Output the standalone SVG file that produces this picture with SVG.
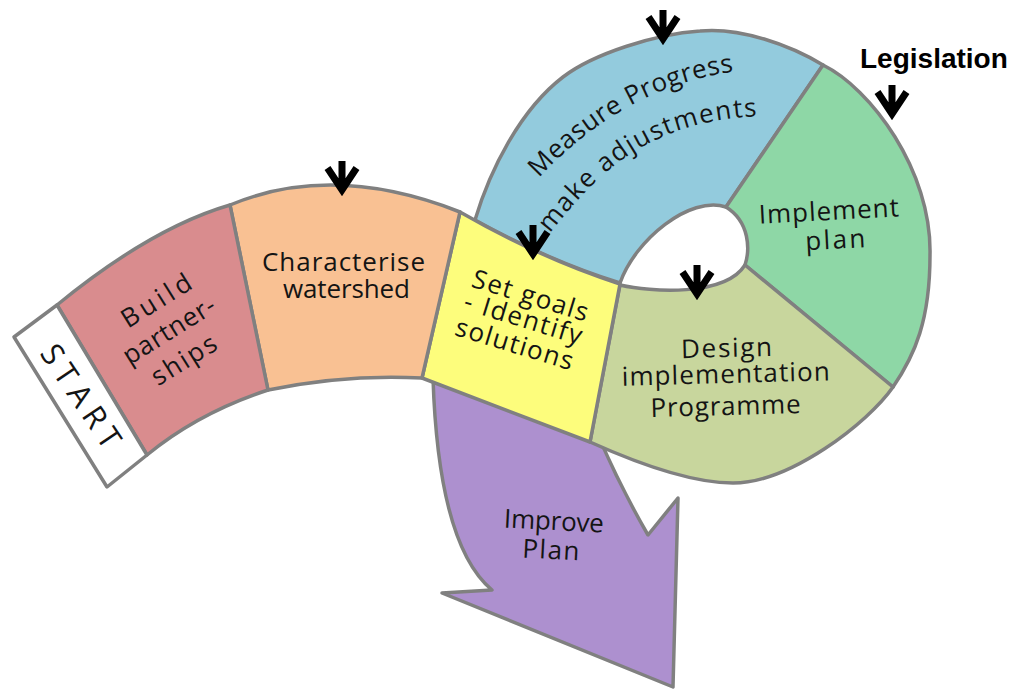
<svg xmlns="http://www.w3.org/2000/svg" width="1013" height="692" viewBox="0 0 1013 692">
<style>
.seg{stroke:#808080;stroke-width:3.5;stroke-linejoin:round}
.hand{font-family:"Open Sans","DejaVu Sans",sans-serif;font-size:26px;fill:#141414}
.arr{fill:none;stroke:#000;stroke-width:7;stroke-linejoin:miter;stroke-miterlimit:6}
.leg{font-family:"Liberation Sans",Arial,sans-serif;font-weight:bold;font-size:28px;fill:#000}
</style>
<defs>
<g id="arrow"><path class="arr" d="M-14.5,-30 L0,-8 L14.5,-30 M0,-37 L0,-10"/></g>
<path id="mp1" d="M539,178 C572,142 640,82 740,71"/>
<path id="mp2" d="M550,233 C585,191 635,120 762,116"/>
</defs>
<rect width="1013" height="692" fill="#fff"/>

<g id="improve-plan">
<path class="seg" fill="#ad90cf" d="M433,378 C436,470 450,555 492,590 L442,593 L673,687 L678,498 L648,535 Q622,490 600,440 Z"/>
<g transform="rotate(3 553 540)">
<text class="hand" x="503" y="530" textLength="100">Improve</text>
<text class="hand" x="523" y="559" textLength="57">Plan</text>
</g>
</g>

<g id="measure-progress">
<path class="seg" fill="#93cbdd" d="M475,220 C490,170 520,110 563,77 C593,54 655,34 700,31 C740,27 790,45 823,65 L726,207 C690,195 635,240 620,283 Q547.5,260.3 475,220 Z"/>
<text class="hand" letter-spacing="0.5"><textPath href="#mp1">Measure Progress</textPath></text>
<text class="hand" letter-spacing="1.5"><textPath href="#mp2">make adjustments</textPath></text>
</g>

<g id="implement-plan">
<path class="seg" fill="#8ed7a6" d="M823,65 C870,88 932,170 930,255 C930,320 915,355 893,387 L745,265 C750,250 750,222 726,207 Z"/>
<g transform="rotate(-3 830 234)">
<text class="hand" x="760" y="220" textLength="140">Implement</text>
<text class="hand" x="805" y="249" textLength="60">plan</text>
</g>
</g>

<g id="design-programme">
<path class="seg" fill="#c8d69d" d="M620,285 C650,292 725,297 745,265 L893,387 C868,423 790,483 733,483 C690,483 630,460 590,442 Z"/>
<g transform="rotate(-1.5 726 385)">
<text class="hand" x="682" y="357" textLength="91">Design</text>
<text class="hand" x="622" y="383" textLength="208">implementation</text>
<text class="hand" x="650" y="415" textLength="150">Programme</text>
</g>
</g>

<g id="set-goals">
<path class="seg" fill="#fdfd7c" d="M460,212 Q540,258 620,284 L590,442 L422,378 Z"/>
<g transform="translate(521,326) rotate(17)">
<text class="hand" x="-60" y="-23" textLength="120">Set goals</text>
<text class="hand" x="-61" y="1" textLength="122">- Identify</text>
<text class="hand" x="-62" y="28" textLength="122">solutions</text>
</g>
</g>

<g id="characterise-watershed">
<path class="seg" fill="#f9c193" d="M230,205 Q333,162 460,212 L422,378 Q345,374 268,390 Z"/>
<text class="hand" x="262" y="271" textLength="163">Characterise</text>
<text class="hand" x="283" y="298" textLength="127">watershed</text>
</g>

<g id="build-partnerships">
<path class="seg" fill="#d98c8e" d="M57,305 Q151,228 230,205 L268,390 Q198,413 147,455 Z"/>
<g transform="translate(170,332) rotate(-32)">
<text class="hand" x="-34" y="-25" textLength="78">Build</text>
<text class="hand" x="-52" y="7" textLength="104">partner-</text>
<text class="hand" x="-39" y="40" textLength="72">ships</text>
</g>
</g>

<g id="start">
<path class="seg" fill="#fff" d="M14,337 L57,305 L147,455 L107,487 Z"/>
<g transform="translate(81,396) rotate(56)">
<text class="hand" x="-59" y="11" style="font-size:31px" textLength="118">START</text>
</g>
</g>

<g id="legislation">
<text class="leg" x="860" y="68">Legislation</text>
</g>

<g id="connectors">
<use href="#arrow" x="342" y="198"/>
<use href="#arrow" x="533" y="262"/>
<use href="#arrow" x="663" y="47"/>
<use href="#arrow" x="892" y="122"/>
<use href="#arrow" x="697" y="302"/>
</g>
</svg>
